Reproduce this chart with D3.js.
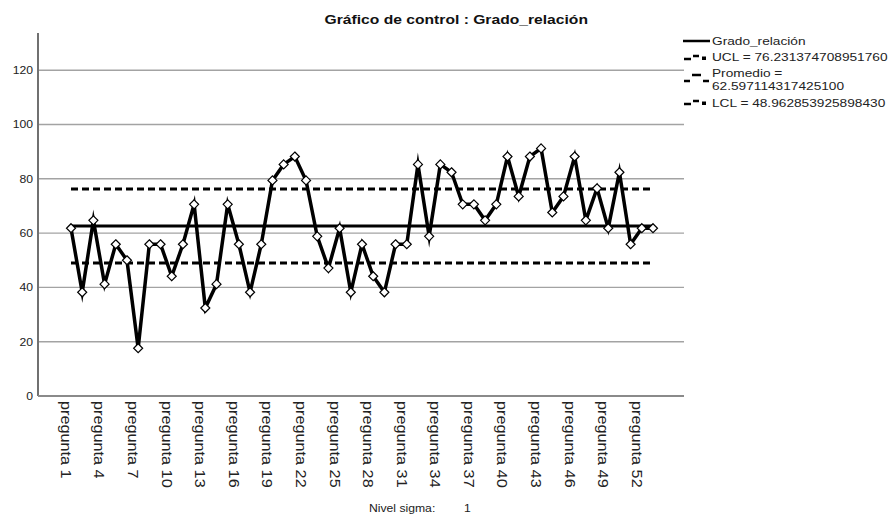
<!DOCTYPE html>
<html>
<head>
<meta charset="utf-8">
<script src="https://cdnjs.cloudflare.com/ajax/libs/d3/7.8.5/d3.min.js"></script>
<style>
  body { margin: 0; background: #fff; }
  svg { font-family: "Liberation Sans", Arial, sans-serif; }
</style>
</head>
<body>
<div id="chart"></div>
<script>
// question numbers shown on the x axis (one point per question)
const preguntas = d3.range(1, 54)
const categories = preguntas.map(n => 'pregunta ' + n)
const tickLabels = [1, 4, 7, 10, 13, 16, 19, 22, 25, 28, 31, 34, 37, 40, 43, 46, 49, 52].map(n => 'pregunta ' + n)

// Grado_relación values
const grado = [61.8, 38.2, 64.7, 41.2, 55.9, 50.0, 17.6, 55.9, 55.9, 44.1,
  55.9, 70.6, 32.4, 41.2, 70.6, 55.9, 38.2, 55.9, 79.4, 85.3,
  88.2, 79.4, 58.8, 47.1, 61.8, 38.2, 55.9, 44.1, 38.2, 55.9,
  55.9, 85.3, 58.8, 85.3, 82.4, 70.6, 70.6, 64.7, 70.6, 88.2,
  73.5, 88.2, 91.2, 67.6, 73.5, 88.2, 64.7, 76.5, 61.8, 82.4,
  55.9, 61.8, 61.8]

const ucl = 76.231374708951760
const promedio = 62.597114317425100
const lcl = 48.962853925898430

const yTicks = [0, 20, 40, 60, 80, 100, 120]
const yMax = 133.7

const legendLabels = ['Grado_relación', 'UCL = 76.231374708951760', ['Promedio =', '62.597114317425100'], 'LCL = 48.962853925898430']

const W = 892, H = 518
const plot = {left: 38, right: 684, top: 33, bottom: 396}
const stretch = 1.16 // SPSS text looks a bit wide

const svg = d3.select('#chart').append('svg')
  .attr('width', W)
  .attr('height', H)

function createYAxis(g) {
  const y = d3.scaleLinear()
    .domain([0, yMax])
    .range([plot.bottom, plot.top])

  // grid lines
  g.append('g')
    .selectAll('line')
    .data(yTicks.filter(d => d > 0))
    .enter()
    .append('line')
    .attr('x1', plot.left + 1)
    .attr('x2', plot.right)
    .attr('y1', d => y(d))
    .attr('y2', d => y(d))
    .attr('stroke', '#a3a3a3')
    .attr('stroke-width', 1.4)

  g.append('g')
    .selectAll('text')
    .data(yTicks)
    .enter()
    .append('text')
    .attr('transform', d => `translate(${plot.left - 5},${y(d) + 4}) scale(${stretch},1)`)
    .attr('text-anchor', 'end')
    .attr('font-size', 10.5)
    .attr('fill', '#222')
    .text(d => d)

  g.append('line')
    .attr('x1', plot.left)
    .attr('x2', plot.left)
    .attr('y1', plot.top)
    .attr('y2', plot.bottom)
    .attr('stroke', '#111')
    .attr('stroke-width', 1.2)

  return y
}

function createXAxis(g) {
  const x = d3.scalePoint()
    .domain(categories)
    .range([71, 653])

  g.append('line')
    .attr('x1', plot.left)
    .attr('x2', plot.right)
    .attr('y1', plot.bottom)
    .attr('y2', plot.bottom)
    .attr('stroke', '#8a8a8a')
    .attr('stroke-width', 2)

  g.append('g')
    .selectAll('text')
    .data(tickLabels)
    .enter()
    .append('text')
    .attr('transform', d => `translate(${x(d) - 5},${plot.bottom + 5}) rotate(90) scale(${stretch},1)`)
    .attr('text-anchor', 'start')
    .attr('dominant-baseline', 'central')
    .attr('font-size', 14)
    .attr('fill', '#222')
    .text(d => d)

  return x
}

const g = svg.append('g')
const y = createYAxis(g)
const x = createXAxis(g)

const x0 = x(categories[0]), x1 = x(categories[categories.length - 1])

// control limits
g.append('g')
  .selectAll('line')
  .data([ucl, lcl])
  .enter()
  .append('line')
  .attr('x1', x0)
  .attr('x2', x1)
  .attr('y1', d => y(d))
  .attr('y2', d => y(d))
  .attr('stroke', '#000')
  .attr('stroke-width', 3)
  .attr('stroke-dasharray', '7,4')

g.append('line')
  .attr('x1', x0 - 1)
  .attr('x2', x1)
  .attr('y1', y(promedio))
  .attr('y2', y(promedio))
  .attr('stroke', '#000')
  .attr('stroke-width', 3)

// the series
const line = d3.line()
  .x((d, i) => x(categories[i]))
  .y(d => y(d))

g.append('path')
  .datum(grado)
  .attr('d', line)
  .attr('fill', 'none')
  .attr('stroke', '#000')
  .attr('stroke-width', 3.5)
  .attr('stroke-linejoin', 'miter')
  .attr('stroke-miterlimit', 8)

g.append('g')
  .selectAll('path')
  .data(grado)
  .enter()
  .append('path')
  .attr('transform', (d, i) => `translate(${x(categories[i])},${y(d)})`)
  .attr('d', 'M0,-4.5L4.5,0L0,4.5L-4.5,0Z')
  .attr('fill', '#fff')
  .attr('stroke', '#000')
  .attr('stroke-width', 1.2)

// title
svg.append('text')
  .attr('transform', `translate(588,24) scale(${stretch},1)`)
  .attr('text-anchor', 'end')
  .attr('font-size', 13.5)
  .attr('font-weight', 'bold')
  .attr('fill', '#111')
  .text('Gráfico de control : Grado_relación')

// legend
const legend = svg.append('g').attr('transform', 'translate(683,0)')

legend.append('line')
  .attr('x1', 0).attr('x2', 27)
  .attr('y1', 41).attr('y2', 41)
  .attr('stroke', '#000').attr('stroke-width', 2.5)

function dashSymbol(yy) {
  legend.append('path')
    .attr('d', `M1,${yy + 2}H8M10,${yy - 1}H16`)
    .attr('stroke', '#000').attr('stroke-width', 2.5)
  legend.append('rect')
    .attr('x', 19).attr('y', yy - 0.5)
    .attr('width', 4).attr('height', 3.5)
    .attr('fill', '#000')
}
dashSymbol(57)
dashSymbol(102)

legend.append('path')
  .attr('d', 'M1,81H7M9,75H18M20,81H26')
  .attr('stroke', '#000').attr('stroke-width', 2.5)

const legendY = [45, 61, 77, 107]
legendLabels.forEach(function (lab, i) {
  const t = legend.append('text')
    .attr('transform', `translate(29,${legendY[i]}) scale(${stretch},1)`)
    .attr('font-size', 11.8)
    .attr('fill', '#222')
  if (Array.isArray(lab)) {
    t.append('tspan').attr('x', 0).text(lab[0])
    t.append('tspan').attr('x', 0).attr('dy', 13).text(lab[1])
  } else {
    t.text(lab)
  }
})

// footer
svg.append('text')
  .attr('transform', `translate(369,512) scale(${stretch},1)`)
  .attr('font-size', 10.5)
  .attr('fill', '#222')
  .text('Nivel sigma:')

svg.append('text')
  .attr('transform', `translate(464,512) scale(${stretch},1)`)
  .attr('font-size', 10.5)
  .attr('fill', '#222')
  .text('1')
</script>
</body>
</html>
